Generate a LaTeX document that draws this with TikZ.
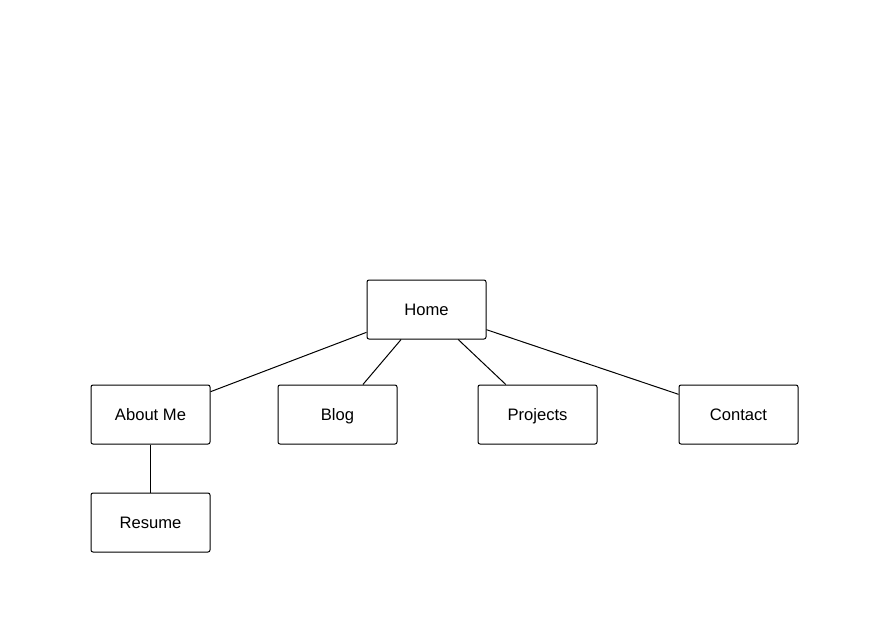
\documentclass[tikz,border=0pt]{standalone}
\usepackage{fontspec}
\setmainfont{Liberation Sans}
\begin{document}
\begin{tikzpicture}[x=1pt,y=-1pt,
  page/.style={draw=black,line width=1pt,rounded corners=2pt,minimum width=119pt,minimum height=59pt,inner sep=0pt,text height=11.8pt,text depth=0pt,font=\fontsize{16.6}{19}\selectfont,fill=white},
  link/.style={draw=black,line width=1pt}]
\useasboundingbox[fill=white] (0,0) rectangle (870,624);
\node[page] (home) at (426.5,309.5) {Home};
\node[page] (about) at (150.5,414.5) {About Me};
\node[page] (blog) at (337.5,414.5) {Blog};
\node[page] (proj) at (537.5,414.5) {Projects};
\node[page] (contact) at (738.5,414.5) {Contact};
\node[page] (resume) at (150.5,522.5) {Resume};
\draw[link] (home) -- (about);
\draw[link] (home) -- (blog);
\draw[link] (home) -- (proj);
\draw[link] (home) -- (contact);
\draw[link] (about) -- (resume);
\end{tikzpicture}
\end{document}
